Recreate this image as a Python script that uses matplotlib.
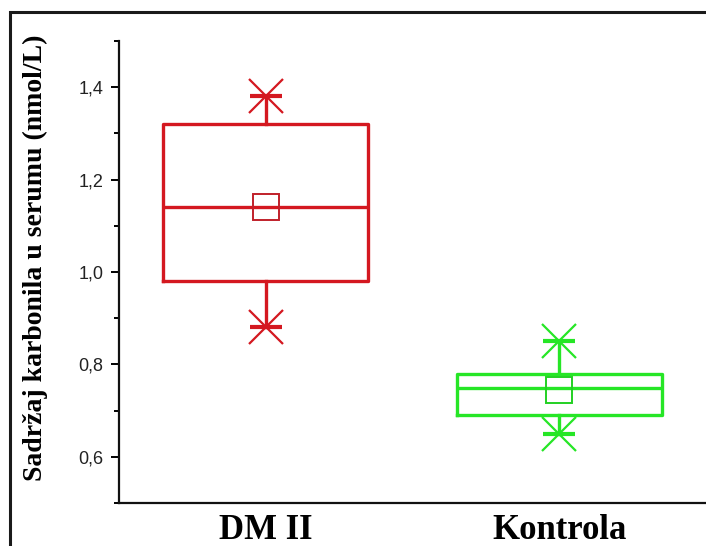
import matplotlib
matplotlib.use("Agg")
import matplotlib.pyplot as plt
from matplotlib.patches import Rectangle
from matplotlib.ticker import MultipleLocator, FuncFormatter

# Serum carbonyl content per group (nmol/L)
groups = ["DM II", "Kontrola"]
q1 = [0.98, 0.69]
median = [1.14, 0.75]
q3 = [1.32, 0.78]
mean = [1.14, 0.745]
whisker_low = [0.88, 0.65]
whisker_high = [1.38, 0.85]
colors = ["#d41820", "#26e626"]
mean_colors = ["#c0202a", "#22d022"]

W, H, DPI = 706, 546, 100
fig = plt.figure(figsize=(W / DPI, H / DPI), dpi=DPI)
fig.patch.set_facecolor("white")

# outer frame around the panel
fig.patches.append(Rectangle((10 / W, -0.2), 1.5, 1 - 12 / H + 0.2,
                             transform=fig.transFigure, fill=False,
                             edgecolor="#1a1a1a", linewidth=2.2, zorder=0))

ax = fig.add_axes([119 / W, 1 - 503 / H, 1 - 119 / W, (503 - 41) / H])

positions = list(range(1, len(groups) + 1))
for i, pos in enumerate(positions):
    stats = [dict(med=median[i], q1=q1[i], q3=q3[i], mean=mean[i],
                  whislo=whisker_low[i], whishi=whisker_high[i], fliers=[])]
    c = colors[i]
    ax.bxp(stats, positions=[pos], widths=0.7, showcaps=False,
           showmeans=True, showfliers=False, manage_ticks=False,
           boxprops=dict(color=c, linewidth=2.4),
           medianprops=dict(color=c, linewidth=2.4),
           whiskerprops=dict(color=c, linewidth=2.4),
           meanprops=dict(marker="s", markersize=19, markerfacecolor="none",
                          markeredgecolor=mean_colors[i], markeredgewidth=1.4))
    # star symbols at the whisker ends
    ends = [whisker_low[i], whisker_high[i]]
    ax.plot([pos, pos], ends, linestyle="none", marker="x", markersize=25,
            markeredgewidth=1.6, color=c)
    ax.plot([pos, pos], ends, linestyle="none", marker="_", markersize=23,
            markeredgewidth=3.0, color=c)

ax.set_xlim(0.5, 2.5)
ax.set_ylim(0.5, 1.5)
ax.set_xticks(positions)
ax.set_xticklabels(groups, fontfamily="Liberation Serif", fontweight="bold",
                   fontsize=25, color="black")
ax.tick_params(axis="x", length=0, pad=8)

ax.yaxis.set_major_locator(MultipleLocator(0.2))
ax.yaxis.set_minor_locator(MultipleLocator(0.1))
ax.yaxis.set_major_formatter(FuncFormatter(lambda v, p: f"{v:.1f}".replace(".", ",")))
ax.tick_params(axis="y", which="major", length=6, width=1.4, pad=5,
               labelsize=13, labelcolor="#222222")
ax.tick_params(axis="y", which="minor", length=3.8, width=1.4)
for lab in ax.get_yticklabels():
    lab.set_fontfamily("Liberation Sans")

for side in ("top", "right"):
    ax.spines[side].set_visible(False)
for side in ("left", "bottom"):
    ax.spines[side].set_linewidth(1.6)
    ax.spines[side].set_color("#111111")

ax.set_ylabel("Sadržaj karbonila u serumu (nmol/L)", fontfamily="Liberation Serif",
              fontweight="bold", fontsize=20, color="black", va="center")
ax.yaxis.set_label_coords(-0.142, 0.53)

fig.savefig("out.png", dpi=DPI)
